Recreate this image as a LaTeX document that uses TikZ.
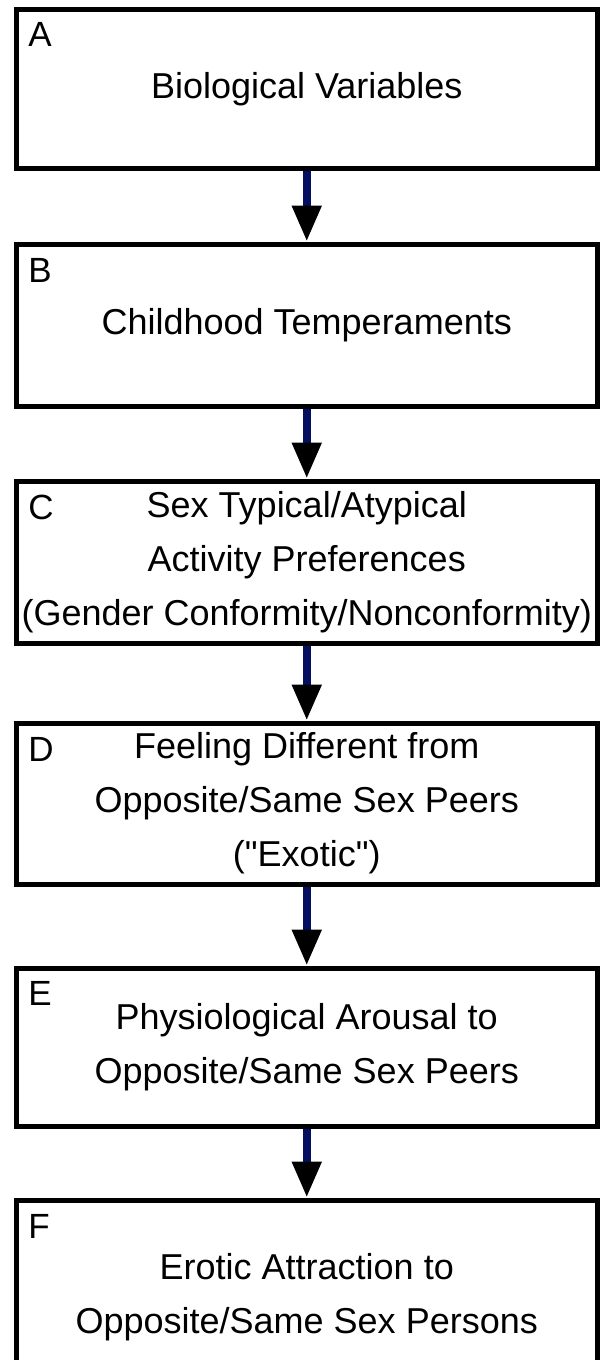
\documentclass[tikz,border=0pt]{standalone}
\usepackage{fontspec}
\setmainfont{Liberation Sans}[Ligatures=TeXOff]
\usetikzlibrary{arrows.meta}
\definecolor{navy}{RGB}{5,15,95}
\tikzset{
  stage/.style={draw, line width=2.5pt, minimum width=290.25pt, inner sep=0pt,
    align=center, font=\fontsize{18}{27}\selectfont},
  tag/.style={anchor=north west, inner sep=0pt, font=\fontsize{17.5}{20}\selectfont},
  flow/.style={draw=navy, line width=4pt,
    -{Triangle[length=18pt,width=14pt,color=black]}}
}
\begin{document}
\begin{tikzpicture}[x=0.5pt,y=-0.5pt]
\useasboundingbox (0,0) rectangle (600,1360);

\node[stage, minimum height=79.5pt] (A) at (306.75,89)
{Biological Variables};
\node[tag] (tagA) at (28,22) {A};

\node[stage, minimum height=81pt] (B) at (306.75,325)
{Childhood Temperaments};
\node[tag] (tagB) at (28,258) {B};

\node[stage, minimum height=81pt] (C) at (306.75,562)
{Sex Typical/Atypical\\Activity Preferences\\(Gender Conformity/Nonconformity)};
\node[tag] (tagC) at (28,495) {C};

\node[stage, minimum height=80.5pt] (D) at (306.75,803.5)
{Feeling Different from\\Opposite/Same Sex Peers\\("Exotic")};
\node[tag] (tagD) at (28,737) {D};

\node[stage, minimum height=79pt] (E) at (306.75,1047)
{Physiological Arousal to\\Opposite/Same Sex Peers};
\node[tag] (tagE) at (28,981) {E};

\node[stage, minimum height=97pt] (F) at (306.75,1297)
{Erotic Attraction to\\Opposite/Same Sex Persons};
\node[tag] (tagF) at (28,1214) {F};

\draw[flow] (A) -- (B);

\draw[flow] (B) -- (C);

\draw[flow] (C) -- (D);

\draw[flow] (D) -- (E);

\draw[flow] (E) -- (F);
\end{tikzpicture}
\end{document}
